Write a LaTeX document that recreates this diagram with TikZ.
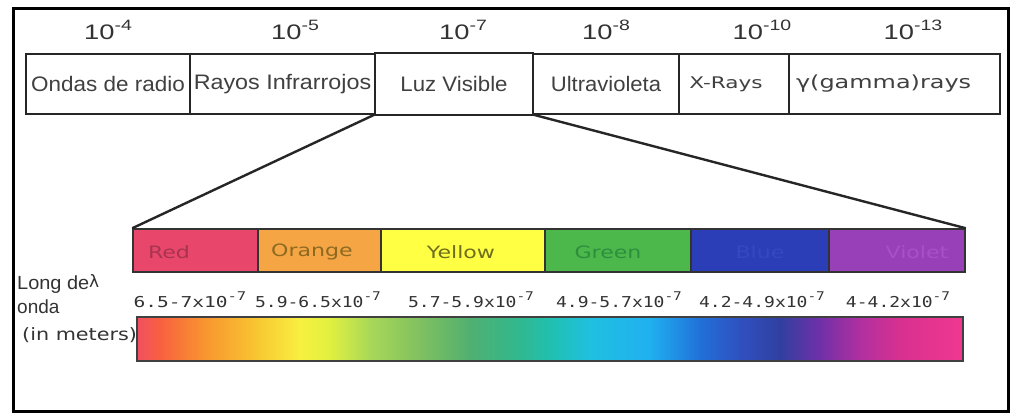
\documentclass[tikz,border=0pt]{standalone}
\usepackage{fontspec}
\setmainfont{Liberation Sans}
\newfontfamily\verd{DejaVu Sans}
\newfontfamily\mono{DejaVu Sans Mono}
\usepackage{graphicx}
\newcommand{\hs}[2]{\scalebox{#1}[1]{#2}}
\newcommand{\esup}[1]{\raisebox{0.42em}{\fontsize{15}{15}\selectfont #1}}
\newcommand{\wsup}[1]{\raisebox{0.45em}{\fontsize{12}{12}\selectfont #1}}
\definecolor{cred}{HTML}{E8476B}
\definecolor{corange}{HTML}{F5A544}
\definecolor{cyellow}{HTML}{FFFF44}
\definecolor{cgreen}{HTML}{4CB84C}
\definecolor{cblue}{HTML}{2B3EB8}
\definecolor{cviolet}{HTML}{9840B8}
\definecolor{tred}{HTML}{A8344E}
\definecolor{torange}{HTML}{8C6A22}
\definecolor{tyellow}{HTML}{6E6E1E}
\definecolor{tgreen}{HTML}{2E8E3E}
\definecolor{tblue}{HTML}{3648C0}
\definecolor{tviolet}{HTML}{A850C8}
\definecolor{g0}{HTML}{F05060}
\definecolor{g1}{HTML}{F86040}
\definecolor{g2}{HTML}{F89030}
\definecolor{g3}{HTML}{F8C030}
\definecolor{g4}{HTML}{F8F040}
\definecolor{g5}{HTML}{E0F040}
\definecolor{g6}{HTML}{A8D858}
\definecolor{g7}{HTML}{80C060}
\definecolor{g8}{HTML}{50B070}
\definecolor{g9}{HTML}{30B890}
\definecolor{g10}{HTML}{20C0B0}
\definecolor{g11}{HTML}{20C0E0}
\definecolor{g12}{HTML}{20B0F0}
\definecolor{g13}{HTML}{2070D8}
\definecolor{g14}{HTML}{3050C0}
\definecolor{g15}{HTML}{3040A0}
\definecolor{g16}{HTML}{7030A8}
\definecolor{g17}{HTML}{B030A0}
\definecolor{g18}{HTML}{D83090}
\definecolor{g19}{HTML}{F03890}
\tikzset{
  cell/.style={draw=black!85, line width=1.6pt, minimum height=60pt, inner sep=0pt, font=\fontsize{21}{23}\selectfont, text=black!75},
  expo/.style={font=\fontsize{21}{23}\selectfont, text=black!80},
  colbox/.style={draw=black!80, line width=1.5pt, minimum height=43pt, inner sep=0pt},
  collab/.style={font=\verd\fontsize{17}{19}\selectfont},
  wave/.style={font=\mono\fontsize{15}{17}\selectfont, text=black!80},
  side/.style={font=\fontsize{19}{20}\selectfont, text=black!80, inner sep=0pt, anchor=west},
  link/.style={line width=2.4pt, draw=black!85}
}
\begin{document}
\begin{tikzpicture}[x=1pt,y=-1pt]
\useasboundingbox (0,0) rectangle (1012,414);
\fill[white] (0,0) rectangle (1012,414);
\node[draw=black, line width=3pt, minimum width=995pt, minimum height=402pt, inner sep=0pt] (frame) at (510.5,210) {};
% exponents
\node[expo] (e1) at (108,30) {\hs{1.3}{10\esup{-4}}};
\node[expo] (e2) at (295,30) {\hs{1.3}{10\esup{-5}}};
\node[expo] (e3) at (463,30) {\hs{1.3}{10\esup{-7}}};
\node[expo] (e4) at (606,30) {\hs{1.3}{10\esup{-8}}};
\node[expo] (e5) at (762,30) {\hs{1.3}{10\esup{-10}}};
\node[expo] (e6) at (913,30) {\hs{1.3}{10\esup{-13}}};
% top cells
\node[cell, minimum width=164pt] (radio) at (108,84) {\hs{1.07}{Ondas de radio}};
\node[cell, minimum width=185pt] (infra) at (282.5,84) {\hs{1.11}{Rayos Infrarrojos}};
\node[cell, minimum width=158pt, draw=none] (luz) at (454,84) {\hs{1.06}{Luz Visible}};
\draw[black!85, line width=1.6pt] (luz.north west) -- (luz.north east) (luz.south west) -- (luz.south east);
\node[cell, minimum width=146pt] (uv) at (606,84) {\hs{1.05}{Ultravioleta}};
\node[cell, minimum width=110pt, font=\verd\fontsize{16}{18}\selectfont] (xr) at (734,84) {\hspace*{-16pt}\hs{1.35}{X-Rays}};
\node[cell, minimum width=211pt, font=\verd\fontsize{18}{20}\selectfont, text width=211pt, align=left] (gam) at (894.5,84) {\hspace*{7pt}\hs{1.33}{γ(gamma)rays}};
% colour boxes
\node[colbox, fill=cred, minimum width=125pt] (red) at (195.5,250.5) {};
\node[colbox, fill=corange, minimum width=123pt] (orange) at (319.5,250.5) {};
\node[colbox, fill=cyellow, minimum width=164pt] (yellow) at (463,250.5) {};
\node[colbox, fill=cgreen, minimum width=146pt] (green) at (618,250.5) {};
\node[colbox, fill=cblue, minimum width=138pt] (blue) at (760,250.5) {};
\node[colbox, fill=cviolet, minimum width=136pt] (violet) at (897,250.5) {};
\node[collab, text=tred] (lred) at (169,252) {\hs{1.3}{Red}};
\node[collab, text=torange] (lorange) at (312,252) {\hs{1.3}{Orange}};
\node[collab, text=tyellow] (lyellow) at (461,252) {\hs{1.3}{Yellow}};
\node[collab, text=tgreen] (lgreen) at (608,252) {\hs{1.3}{Green}};
\node[collab, text=tblue] (lblue) at (760,252) {\hs{1.3}{Blue}};
\node[collab, text=tviolet] (lviolet) at (917,252) {\hs{1.3}{Violet}};
% connectors
\draw[link] (luz.south west) -- (red.north west);
\draw[link] (luz.south east) -- (violet.north east);
% wavelengths
\node[wave] (w1) at (190,300) {\hs{1.3}{6.5-7x10\wsup{-7}}};
\node[wave] (w2) at (318,300) {\hs{1.2}{5.9-6.5x10\wsup{-7}}};
\node[wave] (w3) at (471,300) {\hs{1.2}{5.7-5.9x10\wsup{-7}}};
\node[wave] (w4) at (619,300) {\hs{1.2}{4.9-5.7x10\wsup{-7}}};
\node[wave] (w5) at (762,300) {\hs{1.2}{4.2-4.9x10\wsup{-7}}};
\node[wave] (w6) at (898,300) {\hs{1.2}{4-4.2x10\wsup{-7}}};
% side label
\node[side] (long) at (17,285) {\hs{1.05}{Long de}};
\node[side, font=\verd\fontsize{17}{17}\selectfont] (lam) at (89,281) {λ};
\node[side] (onda) at (17,307) {onda};
\node[side, font=\verd\fontsize{17}{19}\selectfont] (inm) at (22,335) {\hs{1.22}{(in meters)}};
% gradient bar
\foreach \a/\b/\ca/\cb in {0/0.028/g0/g1, 0.028/0.076/g1/g2, 0.076/0.137/g2/g3, 0.137/0.197/g3/g4, 0.197/0.234/g4/g5, 0.234/0.282/g5/g6, 0.282/0.343/g6/g7, 0.343/0.403/g7/g8, 0.403/0.464/g8/g9, 0.464/0.5/g9/g10, 0.5/0.548/g10/g11, 0.548/0.621/g11/g12, 0.621/0.682/g12/g13, 0.682/0.73/g13/g14, 0.73/0.778/g14/g15, 0.778/0.827/g15/g16, 0.827/0.875/g16/g17, 0.875/0.924/g17/g18, 0.924/1.0/g18/g19}
  \shade[left color=\ca, right color=\cb] ({137+826*\a-0.3},317) rectangle ({137+826*\b+0.3},361);
\node[draw=black!75, line width=1.5pt, minimum width=826pt, minimum height=44pt, inner sep=0pt] (bar) at (550,339) {};
\end{tikzpicture}
\end{document}
